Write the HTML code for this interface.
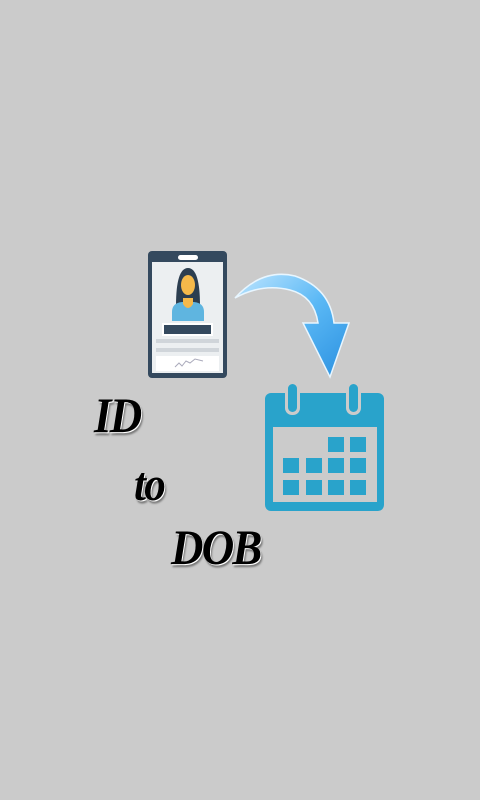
<!DOCTYPE html>
<html><head><style>
html,body{margin:0;padding:0;}
body{width:480px;height:800px;background:#cbcbcb;position:relative;overflow:hidden;}
.t{position:absolute;font-family:"Liberation Serif",serif;font-weight:bold;font-style:italic;color:#000;text-shadow:1px 1px 0 #fff,2px 3px 2px #777;line-height:1;letter-spacing:-2px;transform:scaleX(0.9);transform-origin:left top;}
</style></head><body>
<svg width="480" height="800" style="position:absolute;left:0;top:0">
<defs>
<linearGradient id="g" x1="0" y1="0" x2="1" y2="1">
<stop offset="0" stop-color="#bfe6ff"/><stop offset="0.5" stop-color="#5ab8f5"/><stop offset="1" stop-color="#2a90e0"/>
</linearGradient>
</defs>
<rect x="148" y="251" width="79" height="127" rx="4" fill="#34495e"/>
<rect x="152" y="262" width="71" height="111" fill="#eceff1"/>
<rect x="178" y="255" width="20" height="5" rx="2.5" fill="#fff"/>
<path d="M176 306 Q176 268 188 268 Q200 268 200 306 Z" fill="#2c3e50"/>
<ellipse cx="188" cy="285" rx="7" ry="10" fill="#f5b94a"/>
<path d="M172 321 L172 312 Q172 303 182 302 L194 302 Q204 303 204 312 L204 321 Z" fill="#5fb5e0"/>
<path d="M183 298 L193 298 L193 304 Q188 312 183 304 Z" fill="#f5b94a"/>
<rect x="162" y="323" width="51" height="13" fill="#fff"/>
<rect x="164" y="325" width="47" height="9" fill="#34495e"/>
<rect x="156" y="339" width="63" height="4" fill="#d0d5da"/>
<rect x="156" y="348" width="63" height="4" fill="#d0d5da"/>
<rect x="156" y="356" width="63" height="15" fill="#fff"/>
<polyline points="175,367 179,363 182,366 186,361 190,363 195,359 203,361" fill="none" stroke="#aab" stroke-width="1"/>
<path d="M235 298 Q262 268 295 276 Q330 288 334 323 L349 323 L330 377 L303 323 L318 323 Q314 296 290 290 Q262 283 235 298 Z" fill="url(#g)" stroke="#e8f6ff" stroke-width="1.5"/>
<rect x="265" y="393" width="119" height="118" rx="6" fill="#29a3cb"/>
<rect x="273" y="427" width="104" height="75" fill="#cbcbcb"/>
<rect x="285" y="382" width="15" height="33" rx="7" fill="#cbcbcb"/>
<rect x="288" y="384" width="9" height="28" rx="4.5" fill="#29a3cb"/>
<rect x="346" y="382" width="15" height="33" rx="7" fill="#cbcbcb"/>
<rect x="349" y="384" width="9" height="28" rx="4.5" fill="#29a3cb"/>
<g fill="#29a3cb">
<rect x="328" y="437" width="16" height="15"/><rect x="350" y="437" width="16" height="15"/>
<rect x="283" y="458" width="16" height="15"/><rect x="306" y="458" width="16" height="15"/><rect x="328" y="458" width="16" height="15"/><rect x="350" y="458" width="16" height="15"/>
<rect x="283" y="480" width="16" height="15"/><rect x="306" y="480" width="16" height="15"/><rect x="328" y="480" width="16" height="15"/><rect x="350" y="480" width="16" height="15"/>
</g>
</svg>
<div class="t" style="left:94px;top:390px;font-size:50px;">ID</div>
<div class="t" style="left:134px;top:461px;font-size:48px;">to</div>
<div class="t" style="left:171px;top:522px;font-size:50px;">DOB</div>
</body></html>
